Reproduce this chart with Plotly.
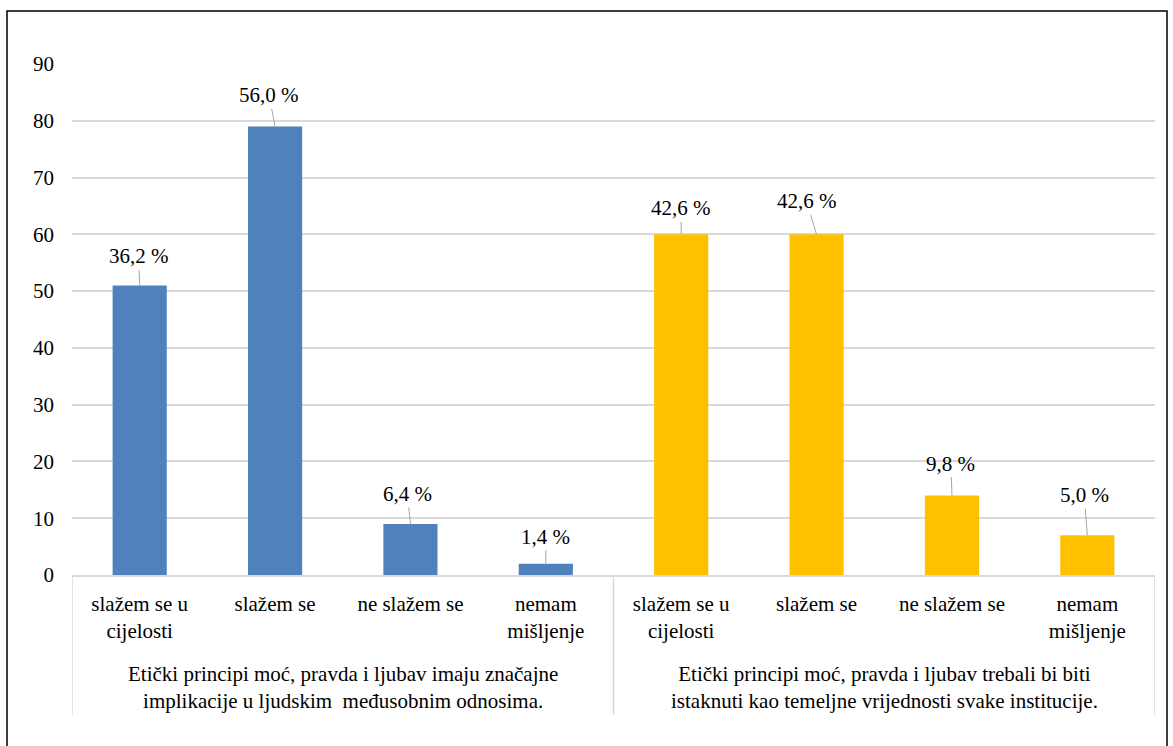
import plotly.graph_objects as go

categories = ["slažem se u<br>cijelosti", "slažem se", "ne slažem se", "nemam<br>mišljenje"]
groups = [
    "Etički principi moć, pravda i ljubav imaju značajne<br>implikacije u ljudskim  međusobnim odnosima.",
    "Etički principi moć, pravda i ljubav trebali bi biti<br>istaknuti kao temeljne vrijednosti svake institucije.",
]
values_group1 = [51, 79, 9, 2]
values_group2 = [60, 60, 14, 7]
labels_group1 = ["36,2 %", "56,0 %", "6,4 %", "1,4 %"]
labels_group2 = ["42,6 %", "42,6 %", "9,8 %", "5,0 %"]
y_ticks = [0, 10, 20, 30, 40, 50, 60, 70, 80, 90]

# label offsets (pixels) for leader lines
label_offsets = [(-1, -29), (-6, -31), (-3, -30), (0, -27),
                 (0, -26), (-10, -33), (-1, -32), (-3, -40)]

FONT = "Liberation Serif"
FS = 21
BLUE = "#4F81BD"
YELLOW = "#FFC000"
GRID = "#D9D9D9"

n = len(categories)
x1 = list(range(n))
x2 = list(range(n, 2 * n))

fig = go.Figure()
fig.add_trace(go.Bar(x=x1, y=values_group1, marker_color=BLUE, marker_line_width=0,
                     width=0.4, showlegend=False, hoverinfo="y"))
fig.add_trace(go.Bar(x=x2, y=values_group2, marker_color=YELLOW, marker_line_width=0,
                     width=0.4, showlegend=False, hoverinfo="y"))

all_x = x1 + x2
all_v = values_group1 + values_group2
all_l = labels_group1 + labels_group2
for xi, v, lab, (ax, ay) in zip(all_x, all_v, all_l, label_offsets):
    fig.add_annotation(x=xi, y=v, text=lab, showarrow=True, arrowhead=0,
                       arrowwidth=1, arrowcolor="#A6A6A6", ax=ax, ay=ay,
                       font=dict(family=FONT, size=FS, color="#000000"))

# group labels
for gi, g in enumerate(groups):
    fig.add_annotation(x=gi * n + (n - 1) / 2, y=-0.22, xref="x", yref="paper",
                       text=g, showarrow=False, yanchor="middle",
                       font=dict(family=FONT, size=FS, color="#000000"))

# group dividers
for xd in [-0.5, n - 0.5, 2 * n - 0.5]:
    fig.add_shape(type="line", x0=xd, x1=xd, xref="x", y0=0, y1=-0.274, yref="paper",
                  line=dict(color=GRID, width=1.5))

# outer border
fig.add_shape(type="rect", xref="paper", yref="paper", x0=-0.0600, x1=1.0111,
              y0=-0.40, y1=1.1037, line=dict(color="#000000", width=1.5))

fig.update_layout(
    width=1173, height=746,
    margin=dict(l=72, r=18, t=64, b=171),
    paper_bgcolor="white", plot_bgcolor="white",
    bargap=0.6,
    font=dict(family=FONT, size=FS, color="#000000"),
    xaxis=dict(tickvals=all_x, ticktext=categories * 2, range=[-0.5, 2 * n - 0.5],
               showgrid=False, zeroline=False, showline=True, linecolor=GRID, linewidth=1.5,
               ticks="", ticklabelstandoff=9,
               tickfont=dict(family=FONT, size=FS, color="#000000")),
    yaxis=dict(range=[0, 90], tickvals=y_ticks, showgrid=True, gridcolor=GRID, gridwidth=1.5,
               zeroline=False, showline=False, ticks="", ticklabelstandoff=17,
               tickfont=dict(family=FONT, size=FS, color="#000000")),
)

fig.write_html("out.html", config={"displayModeBar": False},
               post_script="document.body.style.margin='0';")
